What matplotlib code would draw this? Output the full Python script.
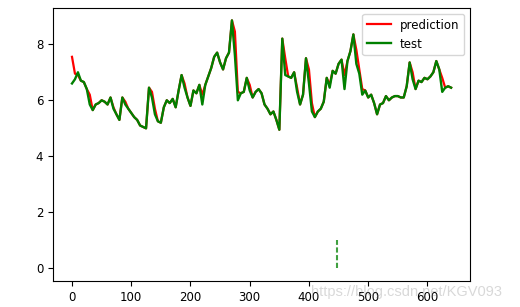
import numpy as np
from matplotlib import pyplot as plt

# test series, one value every 5 steps (x = 0 .. 640)
test = [6.6, 6.75, 7.0, 6.7, 6.65, 6.4, 5.85, 5.65, 5.85, 5.9,
        6.0, 5.95, 5.85, 6.1, 5.7, 5.5, 5.3, 6.1, 5.85, 5.7,
        5.55, 5.4, 5.3, 5.1, 5.05, 5.0, 6.45, 6.1, 5.5, 5.25,
        5.2, 5.75, 6.0, 5.9, 6.05, 5.75, 6.35, 6.9, 6.45, 6.1,
        5.8, 6.35, 6.25, 6.55, 5.85, 6.55, 6.85, 7.15, 7.55, 7.7,
        7.35, 7.1, 7.5, 7.7, 8.85, 7.6, 6.0, 6.25, 6.3, 6.8,
        6.35, 6.1, 6.3, 6.4, 6.25, 5.85, 5.7, 5.5, 5.6, 5.3,
        4.95, 8.2, 6.9, 6.85, 6.8, 7.0, 6.3, 5.85, 6.2, 7.5,
        6.6, 5.6, 5.4, 5.6, 5.7, 5.95, 6.8, 6.45, 7.05, 6.95,
        7.3, 7.45, 6.4, 7.4, 7.75, 8.35, 7.3, 6.95, 6.2, 6.35,
        6.1, 6.2, 5.9, 5.5, 5.85, 5.9, 6.15, 6.0, 6.1, 6.15,
        6.15, 6.1, 6.1, 6.5, 7.35, 6.75, 6.4, 6.7, 6.65, 6.8,
        6.75, 6.85, 7.0, 7.4, 7.1, 6.3, 6.45, 6.5, 6.45]

prediction = [7.55, 6.95, 6.9, 6.7, 6.65, 6.4, 6.2, 5.65, 5.85, 5.9,
              6.0, 5.95, 5.85, 6.1, 5.75, 5.5, 5.3, 6.1, 5.95, 5.7,
              5.55, 5.4, 5.3, 5.1, 5.05, 5.0, 6.45, 6.3, 5.7, 5.25,
              5.2, 5.75, 6.0, 5.9, 6.05, 5.75, 6.35, 6.9, 6.6, 6.1,
              5.8, 6.35, 6.25, 6.55, 6.2, 6.55, 6.85, 7.15, 7.55, 7.7,
              7.35, 7.1, 7.5, 7.7, 8.85, 8.45, 6.3, 6.25, 6.3, 6.8,
              6.55, 6.1, 6.3, 6.4, 6.25, 5.85, 5.7, 5.5, 5.6, 5.3,
              4.95, 8.2, 7.5, 6.85, 6.8, 7.0, 6.45, 5.85, 6.2, 7.5,
              7.1, 5.9, 5.4, 5.6, 5.7, 5.95, 6.8, 6.55, 7.05, 6.95,
              7.3, 7.45, 6.9, 7.4, 7.75, 8.35, 7.8, 7.1, 6.4, 6.35,
              6.1, 6.2, 5.9, 5.5, 5.85, 5.9, 6.15, 6.0, 6.1, 6.15,
              6.15, 6.1, 6.1, 6.5, 7.35, 7.0, 6.4, 6.7, 6.65, 6.8,
              6.75, 6.85, 7.0, 7.4, 7.1, 6.8, 6.45, 6.5, 6.45]

steps = np.arange(len(test)) * 5

# dashed marker line
split_x = [447, 447]
split_y = [0, 1]

plt.rcParams['font.size'] = 8.5
fig = plt.figure(figsize=(5.2, 3.07), dpi=100)
ax = fig.add_axes([0.102, 0.085, 0.802, 0.889])

ax.plot(steps, prediction, color='r', lw=1.6, label='prediction')
ax.plot(steps, test, color='g', lw=1.7, label='test')
ax.plot(split_x, split_y, color='g', lw=1.5, alpha=0.75, linestyle='--', dashes=(2.5, 1.2))
ax.legend(loc='upper right')

ax.set_yticks([0, 2, 4, 6, 8])
ax.set_xticks([0, 100, 200, 300, 400, 500, 600])

fig.text(0.598, 0.035, 'https://blog.csdn.net/KGV093', fontsize=10.5,
         family='Liberation Sans', color='gray', alpha=0.3, zorder=10)

fig.savefig('out.png', dpi=100)
